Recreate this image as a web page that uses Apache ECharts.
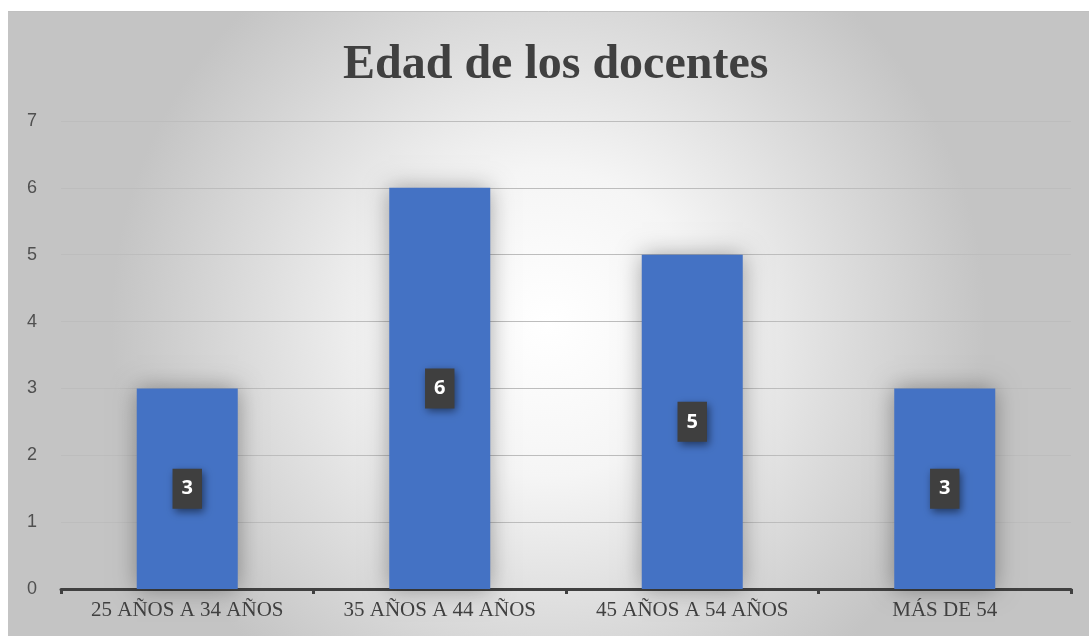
<!DOCTYPE html>
<html>
<head>
<meta charset="utf-8">
<script src="https://cdn.jsdelivr.net/npm/echarts@6/dist/echarts.min.js"></script>
<style>
  html, body { margin: 0; padding: 0; background: #fff; }
  #chart { position: absolute; left: 8px; top: 11px; width: 1081px; height: 625px; }
</style>
</head>
<body>
<div id="chart"></div>
<script>
// datos del gráfico
const categories = ["25 AÑOS A 34 AÑOS", "35 AÑOS A 44 AÑOS", "45 AÑOS A 54 AÑOS", "MÁS DE 54"];
const docentes = [3, 6, 5, 3];
const titleText = "Edad de los docentes";

const chart = echarts.init(document.getElementById("chart"));
chart.setOption({
  animation: false,
  graphic: [
    {
      type: "rect",
      z: -10,
      silent: true,
      shape: { x: 0, y: 0, width: 1081, height: 625 },
      style: {
        fill: new echarts.graphic.RadialGradient(0.5, 0.5, 0.7, [
          { offset: 0, color: "#ffffff" },
          { offset: 0.35, color: "#f5f5f5" },
          { offset: 1, color: "#c4c4c4" },
        ]),
      },
    },
    {
      type: "line",
      silent: true,
      shape: { x1: 0, y1: 0.5, x2: 1081, y2: 0.5 },
      style: { stroke: "#c0c0c0", lineWidth: 1 },
    },
  ],
  title: {
    text: titleText,
    left: 330,
    top: 26,
    textStyle: {
      fontFamily: "Liberation Serif",
      fontWeight: "bold",
      fontSize: 48,
      color: "#404040",
    },
  },
  grid: { left: 53, right: 18, top: 110, bottom: 47 },
  xAxis: {
    type: "category",
    data: categories,
    axisLine: { lineStyle: { color: "#404040", width: 3 } },
    axisTick: { show: true, length: 5, lineStyle: { color: "#404040", width: 3 } },
    axisLabel: {
      fontFamily: "Liberation Serif",
      fontSize: 21,
      color: "#404040",
      margin: 11,
    },
  },
  yAxis: {
    type: "value",
    min: 0,
    max: 7,
    interval: 1,
    axisLine: { show: false },
    axisTick: { show: false },
    axisLabel: {
      fontFamily: "Liberation Sans",
      fontSize: 18,
      color: "#505050",
      margin: 24,
    },
    splitLine: { lineStyle: { color: "#bdbdbd", width: 1 } },
  },
  series: [
    {
      type: "bar",
      data: docentes,
      barWidth: "40%",
      itemStyle: {
        color: "#4472c4",
        shadowBlur: 22,
        shadowColor: "rgba(0,0,0,0.35)",
      },
      label: {
        show: true,
        position: "inside",
        fontFamily: "Open Sans",
        fontWeight: "bold",
        fontSize: 20,
        color: "#ffffff",
        backgroundColor: "#3f3f3f",
        padding: [11, 9, 9, 9],
        shadowBlur: 8,
        shadowColor: "rgba(0,0,0,0.5)",
        shadowOffsetX: 2,
        shadowOffsetY: 3,
      },
    },
  ],
});
</script>
</body>
</html>
